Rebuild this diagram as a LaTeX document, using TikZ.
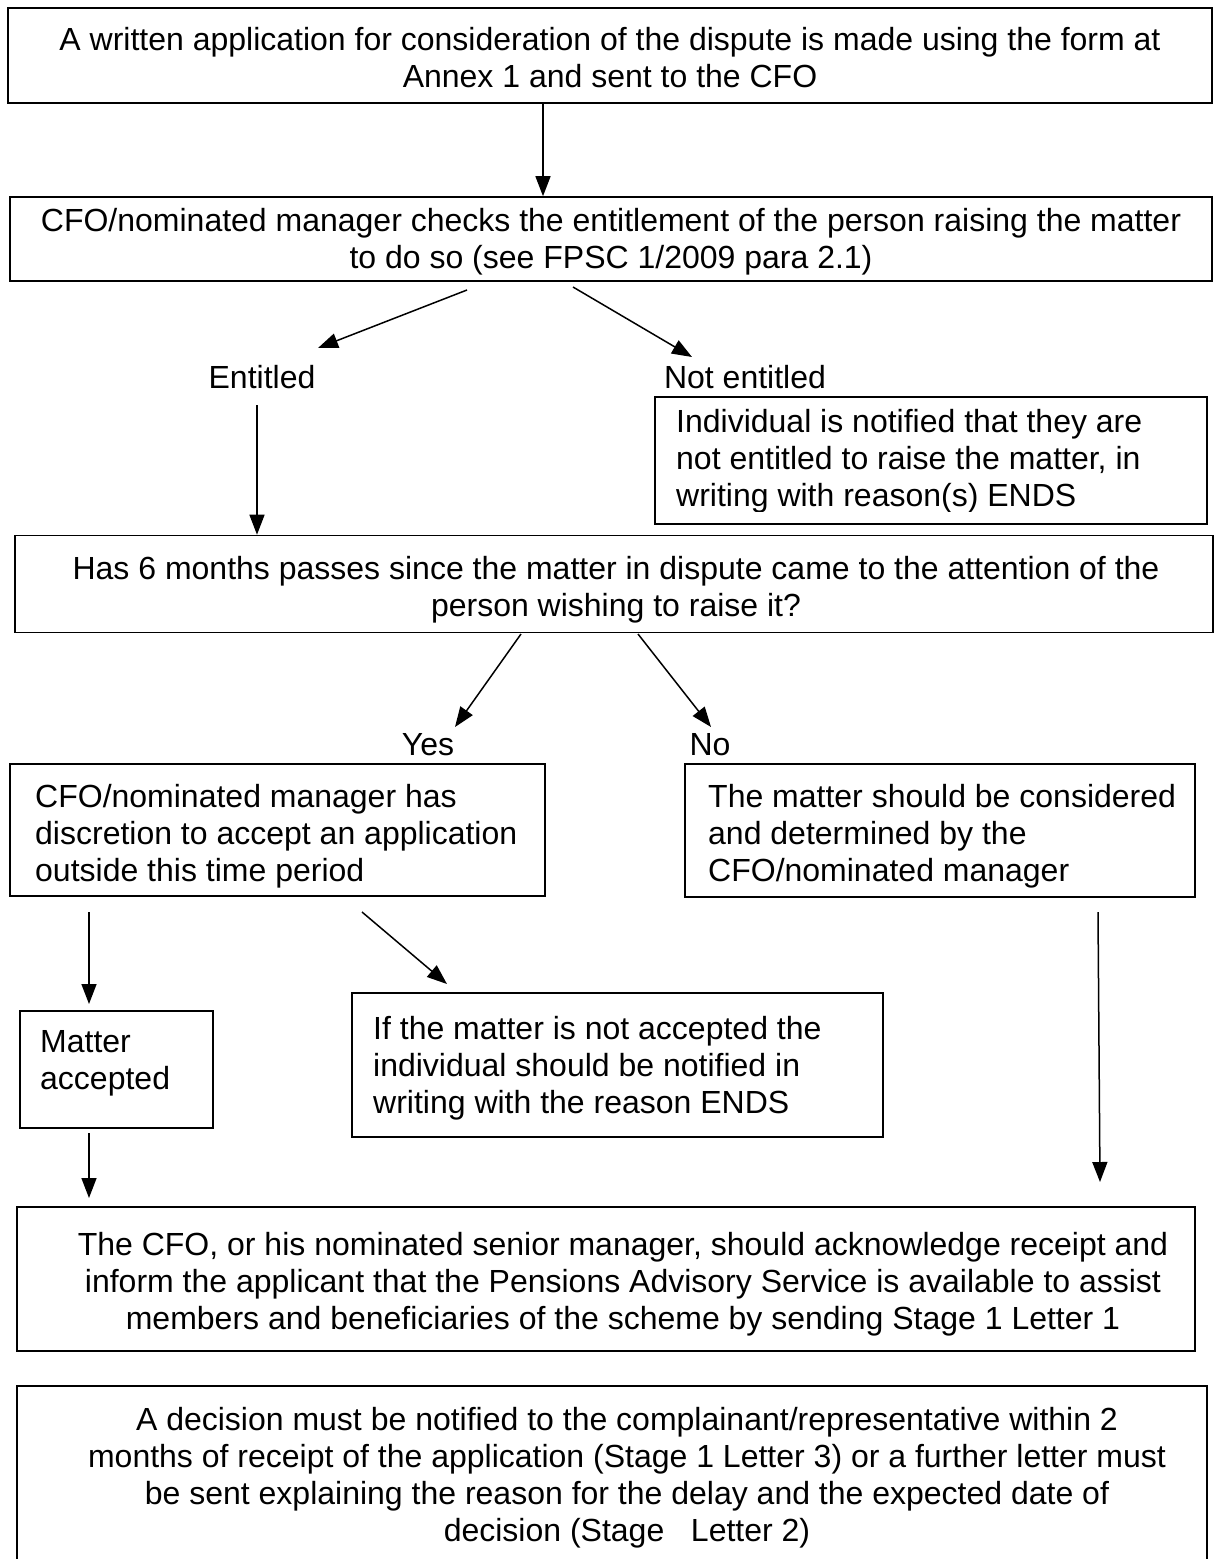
\documentclass[tikz,border=0pt]{standalone}
\usepackage{fontspec}
\setmainfont{Liberation Sans}
\usetikzlibrary{arrows.meta}
\begin{document}
\begin{tikzpicture}[x=1pt,y=-1pt,
  box/.style={draw, line width=1.6pt, inner sep=0pt},
  txt/.style={inner sep=0pt, font=\fontsize{32}{37}\selectfont},
  ltxt/.style={txt, align=left, anchor=north west},
  ctxt/.style={txt, align=center},
  arr/.style={line width=1.5pt, -{Triangle[length=20pt,width=15pt]}}]
\useasboundingbox (0,0) rectangle (1219,1559);
\clip (0,0) rectangle (1219,1559);
% boxes
\node[box, minimum width=1204pt, minimum height=95pt] (b1) at (610,55.5) {};
\node[box, minimum width=1202pt, minimum height=84pt] (b2) at (611,239) {};
\node[box, minimum width=552pt, minimum height=127pt] (bind) at (931,460.5) {};
\node[box, minimum width=1198pt, minimum height=97pt] (b3) at (614,584) {};
\node[box, minimum width=535pt, minimum height=132pt] (b4) at (277.5,830) {};
\node[box, minimum width=510pt, minimum height=133pt] (b5) at (940,830.5) {};
\node[box, minimum width=193pt, minimum height=117pt] (bma) at (116.5,1069.5) {};
\node[box, minimum width=531pt, minimum height=144pt] (bif) at (617.5,1065) {};
\node[box, minimum width=1178pt, minimum height=144pt] (b6) at (606,1279) {};
\node[box, minimum width=1190pt, minimum height=195pt] (b7) at (612,1483.5) {};
% texts
\node[ctxt] (t1) at (610,58) {A written application for consideration of the dispute is made using the form at\\Annex 1 and sent to the CFO};
\node[ctxt] (t2) at (611,242) {CFO/nominated manager checks the entitlement of the person raising the matter\\to do so (see FPSC 1/2009 para 2.1)};
\node[ctxt] (lent) at (262,377) {Entitled};
\node[ctxt] (lnot) at (745,377) {Not entitled};
\begin{scope}
\clip (bind.north west) rectangle ([yshift=13pt]bind.south east);
\node[ltxt] (tind) at (676,409) {Individual is notified that they are\\not entitled to raise the matter, in\\writing with reason(s) ENDS};
\end{scope}
\node[ctxt] (t3) at (616,590) {Has 6 months passes since the matter in dispute came to the attention of the\\person wishing to raise it?};
\node[ctxt] (lyes) at (428,745) {Yes};
\node[ctxt] (lno) at (710,745) {No};
\node[ltxt] (t4) at (35,784) {CFO/nominated manager has\\discretion to accept an application\\outside this time period};
\node[ltxt] (t5) at (708,784) {The matter should be considered\\and determined by the\\CFO/nominated manager};
\node[ltxt] (tma) at (40,1030) {Matter\\accepted};
\node[ltxt] (tif) at (373,1016) {If the matter is not accepted the\\individual should be notified in\\writing with the reason ENDS};
\node[ctxt] (t6) at (623,1284) {The CFO, or his nominated senior manager, should acknowledge receipt and\\inform the applicant that the Pensions Advisory Service is available to assist\\members and beneficiaries of the scheme by sending Stage 1 Letter 1};
\node[ctxt] (t7) at (627,1478) {A decision must be notified to the complainant/representative within 2\\months of receipt of the application (Stage 1 Letter 3) or a further letter must\\be sent explaining the reason for the delay and the expected date of\\decision (Stage\ \ \ Letter 2)};
% connector coordinates
\coordinate (x1) at (543,0);
\coordinate (e1s) at (467,290);
\coordinate (e1e) at (318,348);
\coordinate (e2s) at (573,287);
\coordinate (e2e) at (692,357);
\coordinate (x3) at (257,0);
\coordinate (a3s) at (257,405);
\coordinate (ys) at (521,634);
\coordinate (ye) at (455,727);
\coordinate (ns) at (638,634);
\coordinate (ne) at (711,727);
\coordinate (m1s) at (89,912);
\coordinate (m1e) at (89,1004);
\coordinate (r1s) at (362,912);
\coordinate (r1e) at (447,984);
\coordinate (d1s) at (1098,912);
\coordinate (d1e) at (1100,1182);
\coordinate (m2s) at (89,1133);
\coordinate (m2e) at (89,1198);
% connectors
\draw[arr] (b1.south -| x1) -- (b2.north -| x1);
\draw[arr] (e1s) -- (e1e);
\draw[arr] (e2s) -- (e2e);
\draw[arr] (a3s) -- (b3.north -| x3);
\draw[arr] (ys) -- (ye);
\draw[arr] (ns) -- (ne);
\draw[arr] (m1s) -- (m1e);
\draw[arr] (r1s) -- (r1e);
\draw[arr] (d1s) -- (d1e);
\draw[arr] (m2s) -- (m2e);
\end{tikzpicture}
\end{document}
